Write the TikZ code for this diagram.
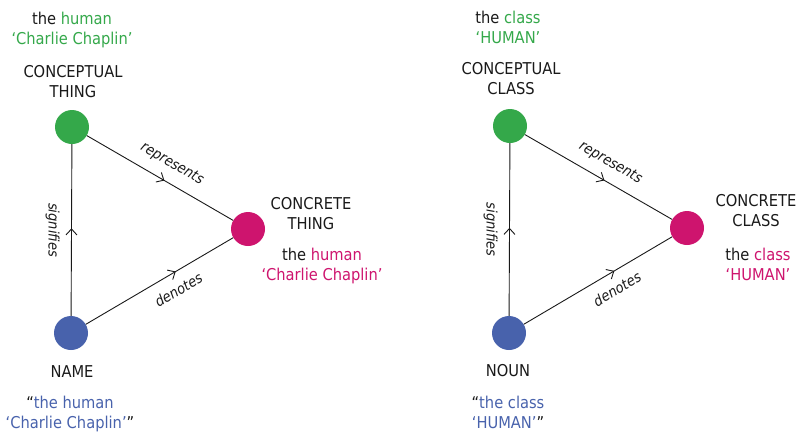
\documentclass[tikz,border=0pt]{standalone}
\usepackage{fontspec}
\setmainfont{DejaVu Sans Condensed}
\usetikzlibrary{arrows.meta,decorations.markings,calc}

\definecolor{cgreen}{RGB}{52,168,74}
\definecolor{cpink}{RGB}{206,20,110}
\definecolor{cblue}{RGB}{72,98,172}
\definecolor{ink}{RGB}{25,25,25}

\tikzset{
  dot/.style={circle, minimum size=34pt, inner sep=0pt, draw=none},
  lbl/.style={font=\fontsize{16.3}{20}\selectfont, text=ink, align=center, inner sep=0pt},
  rellbl/.style={font=\fontsize{14.5}{17}\selectfont\itshape, text=ink, inner sep=0pt},
  rel/.style={color=ink, line width=0.9pt, postaction={decorate},
    decoration={markings, mark=at position #1 with
      {\arrow{Straight Barb[length=6pt,width=11pt,line width=0.9pt]}}}},
  rel/.default=0.5
}

\begin{document}
\begin{tikzpicture}[x=1pt,y=-1pt]
\useasboundingbox (0,0) rectangle (799,432);

% ---- individual: the human Charlie Chaplin ----
\node[dot, fill=cgreen] (g1) at (72,127) {};
\node[dot, fill=cpink]  (p1) at (248,229) {};
\node[dot, fill=cblue]  (b1) at (71,333) {};

\node[lbl] (g1top) at (72,30) {the \textcolor{cgreen}{human}\\\textcolor{cgreen}{‘Charlie Chaplin’}};
\node[lbl] (g1name) at (73,82) {CONCEPTUAL\\THING};
\node[lbl] (p1name) at (311,214) {CONCRETE\\THING};
\node[lbl] (p1sub) at (322,265.5) {the \textcolor{cpink}{human}\\\textcolor{cpink}{‘Charlie Chaplin’}};
\node[lbl] (b1name) at (72,372) {NAME};
\node[lbl] (b1sub) at (70,414) {“\textcolor{cblue}{the human}\\\textcolor{cblue}{‘Charlie Chaplin’}”};

\draw[rel=0.53] (g1) -- node[rellbl, pos=0.52, sloped, above=11pt] (r1) {represents} (p1);
\draw[rel=0.61] (b1) -- node[rellbl, pos=0.57, sloped, below=11pt] (d1) {denotes} (p1);
\draw[rel=0.51] (b1) -- (g1);
\node[rellbl, rotate=-90] (s1) at ($(b1)!0.5!(g1)+(-19,0)$) {signifies};

% ---- class: HUMAN ----
\node[dot, fill=cgreen] (g2) at (510,126) {};
\node[dot, fill=cpink]  (p2) at (687,228) {};
\node[dot, fill=cblue]  (b2) at (509,333) {};

\node[lbl] (g2top) at (508,27) {the \textcolor{cgreen}{class}\\\textcolor{cgreen}{‘HUMAN’}};
\node[lbl] (g2name) at (511,79) {CONCEPTUAL\\CLASS};
\node[lbl] (p2name) at (756,211) {CONCRETE\\CLASS};
\node[lbl] (p2sub) at (758,264) {the \textcolor{cpink}{class}\\\textcolor{cpink}{‘HUMAN’}};
\node[lbl] (b2name) at (508,371) {NOUN};
\node[lbl] (b2sub) at (508,412.5) {“\textcolor{cblue}{the class}\\\textcolor{cblue}{‘HUMAN’}”};

\draw[rel=0.54] (g2) -- node[rellbl, pos=0.52, sloped, above=11pt] (r2) {represents} (p2);
\draw[rel=0.61] (b2) -- node[rellbl, pos=0.57, sloped, below=11pt] (d2) {denotes} (p2);
\draw[rel=0.51] (b2) -- (g2);
\node[rellbl, rotate=-90] (s2) at ($(b2)!0.5!(g2)+(-19,0)$) {signifies};

\end{tikzpicture}
\end{document}
